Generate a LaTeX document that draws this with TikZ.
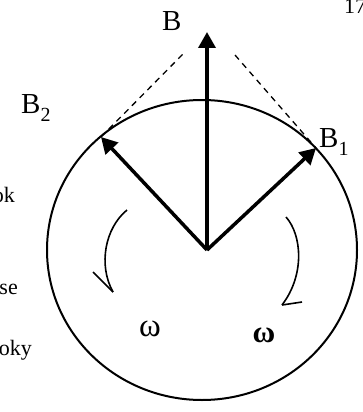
\documentclass[tikz,border=0pt]{standalone}
\usepackage{fontspec}
\setmainfont{Liberation Serif}
\usetikzlibrary{arrows.meta}
\newcommand\lowsub[1]{\raisebox{-0.28em}{\fontsize{20}{24}\selectfont #1}}
\tikzset{
  vec/.style={line width=3.5pt,-{Triangle[length=16pt,width=17pt]}},
  rim/.style={line width=2pt},
  guide/.style={line width=1.3pt,dash pattern=on 6pt off 5pt},
  spin/.style={line width=1.6pt},
  biglbl/.style={inner sep=0pt,font=\fontsize{29}{34}\selectfont},
  omlbl/.style={inner sep=0pt,font=\fontsize{33}{38}\selectfont},
  sidetxt/.style={inner sep=0pt,font=\fontsize{22}{26}\selectfont},
}
\begin{document}
\begin{tikzpicture}[x=1pt,y=-1pt]
\useasboundingbox (0,0) rectangle (362,412);
\clip (0,0) rectangle (362,412);
% rim
\draw[rim] (202,250) ellipse [x radius=155, y radius=150];
% coordinates
\coordinate (O) at (207,250);
\coordinate (Bt) at (207,32);
\coordinate (B2t) at (101,137);
\coordinate (B1t) at (316,148);
\coordinate (dL) at (184,53);
\coordinate (dR) at (235,55);
% dashed guides
\draw[guide] (B2t) -- (dL);
\draw[guide] (dR) -- (B1t);
% vectors
\draw[vec] (O) -- (Bt);
\draw[vec] (O) -- (B2t);
\draw[vec] (O) -- (B1t);
% rotation arrows
\coordinate (l0) at (127,210);
\coordinate (l1) at (113,292);
\coordinate (lb) at (93,272);
\draw[spin] (l0) .. controls (105,228) and (98,265) .. (l1);
\draw[spin] (lb) -- (l1);
\coordinate (r0) at (286,217);
\coordinate (r1) at (282,305);
\coordinate (rb) at (302,302);
\draw[spin] (r0) .. controls (302,235) and (305,275) .. (r1);
\draw[spin] (rb) -- (r1);
% labels
\node[biglbl,anchor=base west] (lB) at (162,31) {B};
\node[biglbl,anchor=base west] (lB2) at (21,113) {B\lowsub{2}};
\node[biglbl,anchor=base west] (lB1) at (319,147) {B\lowsub{1}};
\node[omlbl] (w1) at (150,329) {ω};
\node[omlbl,font=\fontsize{31}{36}\selectfont\bfseries] (w2) at (264,335) {ω};
% side text (cut by the page edge)
\node[sidetxt,anchor=base east] (t1) at (15,202) {ok};
\node[sidetxt,anchor=base east] (t2) at (18,294) {se};
\node[sidetxt,anchor=base east] (t3) at (32,355) {oky};
\node[inner sep=0pt,font=\fontsize{22}{26}\selectfont,anchor=base west] (pg) at (344,14) {17};
\end{tikzpicture}
\end{document}
